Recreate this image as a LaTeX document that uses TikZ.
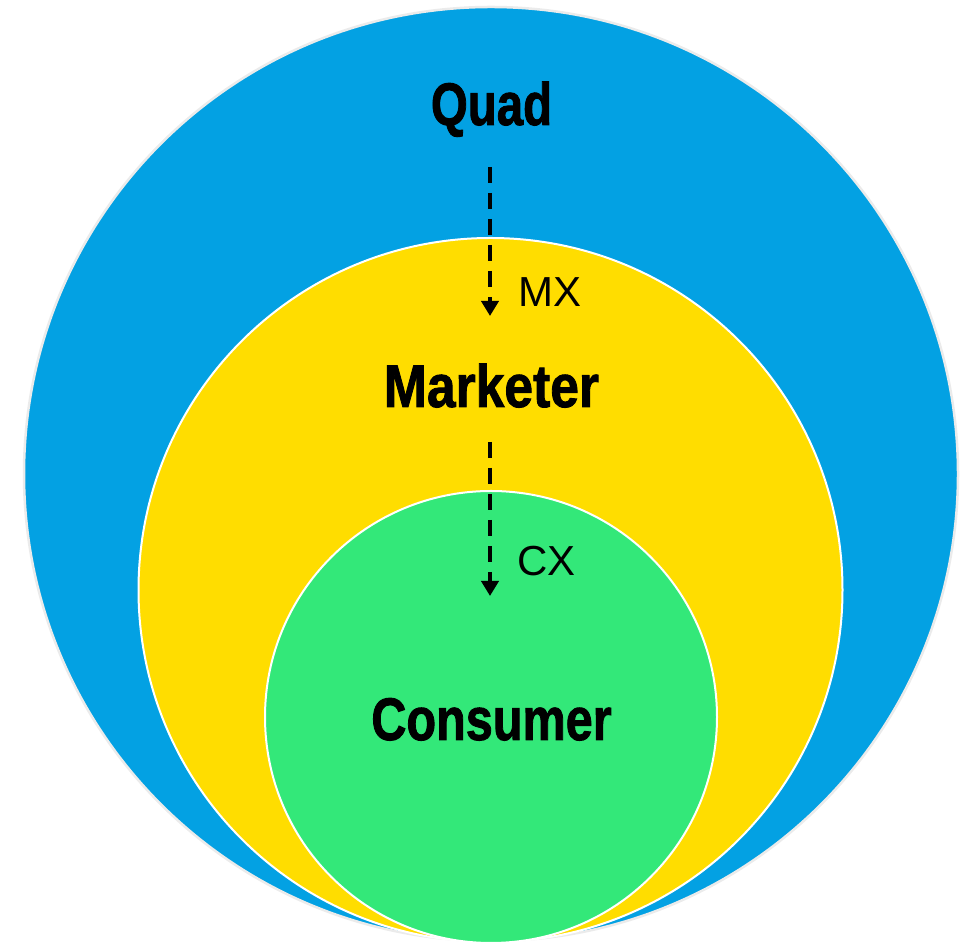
\documentclass[tikz,border=0pt]{standalone}
\usepackage{fontspec}
\setmainfont{Liberation Sans}
\newfontfamily\heavyfont[FakeBold=1.6]{Liberation Sans Bold}
\usetikzlibrary{arrows.meta}
\definecolor{quadblue}{HTML}{03A1E3}
\definecolor{mktyellow}{HTML}{FFDD00}
\definecolor{conzgreen}{HTML}{33E879}
\newcommand{\condtext}[2]{\scalebox{#1}[1]{#2}}
\begin{document}
\begin{tikzpicture}[x=1pt,y=1pt,
  ring/.style={circle, line width=2pt, draw=white, inner sep=0pt},
  bigtitle/.style={font=\fontsize{60}{60}\heavyfont, anchor=base, inner sep=0pt},
  flowlabel/.style={font=\fontsize{42}{42}\selectfont, anchor=base west, inner sep=0pt},
  flowarrow/.style={line width=4pt, dash pattern=on 16pt off 10pt, -{Triangle[length=15pt,width=17pt]}}
]
\path[use as bounding box] (0,0) rectangle (975,944);
% circles
\node[ring, fill=quadblue, draw=black!8, line width=2.5pt, minimum size=934pt] (quad) at (491,470) {};
\node[ring, fill=mktyellow, minimum size=704pt] (mkt) at (490.5,354) {};
\node[ring, fill=conzgreen, minimum size=452pt] (cons) at (491,227) {};
% titles
\node[bigtitle] (tquad) at (491.5,819) {\condtext{0.79}{Quad}};
\node[bigtitle] (tmkt) at (491.5,537) {\condtext{0.86}{Marketer}};
\node[bigtitle] (tcons) at (491.5,204) {\condtext{0.81}{Consumer}};
% arrows
\coordinate (a1s) at (490,777);
\coordinate (a1e) at (490,628);
\coordinate (a2s) at (490,502);
\coordinate (a2e) at (490,348);
\draw[flowarrow] (a1s) -- (a1e);
\draw[flowarrow] (a2s) -- (a2e);
% labels
\node[flowlabel] (mx) at (518,637) {MX};
\node[flowlabel] (cx) at (517,368) {CX};
\end{tikzpicture}
\end{document}
